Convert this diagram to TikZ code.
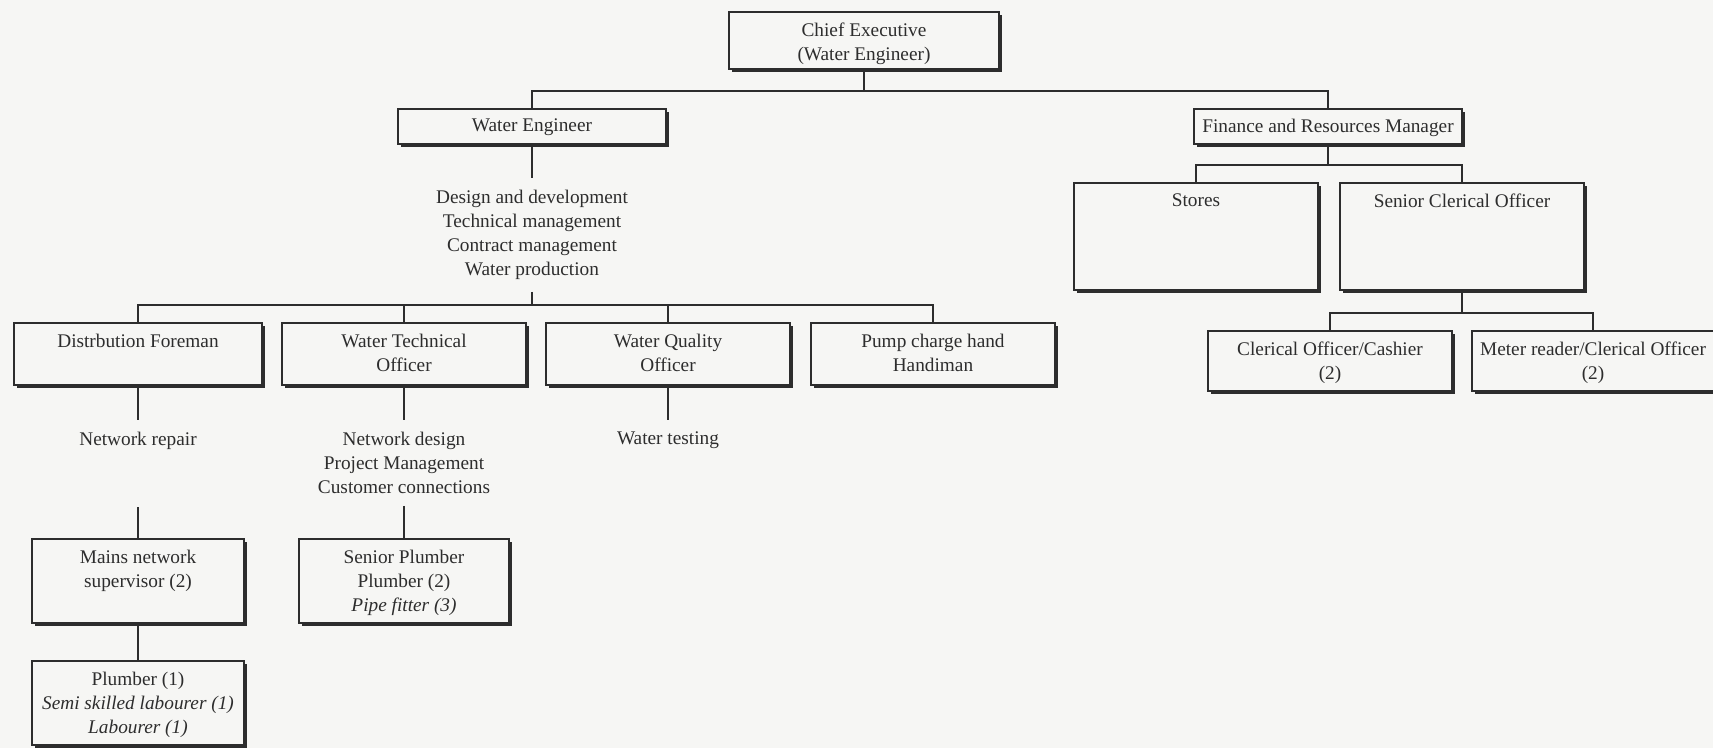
\documentclass[tikz,border=0pt]{standalone}
\usepackage{fontspec}
\setmainfont{Liberation Serif}
\usetikzlibrary{shadows}
\definecolor{ink}{RGB}{45,45,45}
\definecolor{paper}{RGB}{246,246,244}
\begin{document}
\begin{tikzpicture}[x=1pt,y=-1pt,
  box/.style={draw=ink, line width=1.5pt, fill=paper, anchor=north, inner sep=0pt,
     drop shadow={shadow xshift=3pt, shadow yshift=-3pt, opacity=1, fill=ink}},
  lbl/.style={anchor=north, align=center, inner sep=0pt, text=ink, font=\fontsize{19.3}{24}\selectfont},
  fn/.style={lbl, inner ysep=12pt},
  link/.style={draw=ink, line width=1.5pt}]
\fill[paper] (0,0) rectangle (1713,748);
\useasboundingbox (0,0) rectangle (1713,748);

% boxes
\node[box, minimum width=270pt, minimum height=57pt] (ce) at (864,11) {};
\node[box, minimum width=268pt, minimum height=35pt] (we) at (532,108) {};
\node[box, minimum width=268pt, minimum height=35pt] (fin) at (1328,108) {};
\node[box, minimum width=244pt, minimum height=107pt] (stores) at (1196,182) {};
\node[box, minimum width=244pt, minimum height=107pt] (sco) at (1462,182) {};
\node[box, minimum width=244pt, minimum height=60pt] (cash) at (1330,330) {};
\node[box, minimum width=242pt, minimum height=60pt] (meter) at (1593,330) {};
\node[box, minimum width=248pt, minimum height=62pt] (dist) at (138,322) {};
\node[box, minimum width=244pt, minimum height=62pt] (wto) at (404,322) {};
\node[box, minimum width=244pt, minimum height=62pt] (wqo) at (668,322) {};
\node[box, minimum width=244pt, minimum height=62pt] (pump) at (933,322) {};
\node[box, minimum width=212pt, minimum height=84pt] (mains) at (138,538) {};
\node[box, minimum width=212pt, minimum height=84pt] (plumb) at (138,660) {};
\node[box, minimum width=210pt, minimum height=84pt] (splumb) at (404,538) {};

% box texts
\node[lbl] (ce-t) at ([yshift=-12pt]ce.north) {Chief Executive\\(Water Engineer)};
\node[lbl] (we-t) at ([yshift=-11pt]we.north) {Water Engineer};
\node[lbl] (fin-t) at ([yshift=-11pt]fin.north) {Finance and Resources Manager};
\node[lbl] (stores-t) at ([yshift=-12pt]stores.north) {Stores};
\node[lbl] (sco-t) at ([yshift=-12pt]sco.north) {Senior Clerical Officer};
\node[lbl] (cash-t) at ([yshift=-12pt]cash.north) {Clerical Officer/Cashier\\(2)};
\node[lbl] (meter-t) at ([yshift=-12pt]meter.north) {Meter reader/Clerical Officer\\(2)};
\node[lbl] (dist-t) at ([yshift=-12pt]dist.north) {Distrbution Foreman};
\node[lbl] (wto-t) at ([yshift=-12pt]wto.north) {Water Technical\\Officer};
\node[lbl] (wqo-t) at ([yshift=-12pt]wqo.north) {Water Quality\\Officer};
\node[lbl] (pump-t) at ([yshift=-12pt]pump.north) {Pump charge hand\\Handiman};
\node[lbl] (mains-t) at ([yshift=-12pt]mains.north) {Mains network\\supervisor (2)};
\node[lbl] (plumb-t) at ([yshift=-12pt]plumb.north) {Plumber (1)\\\textit{Semi skilled labourer (1)}\\\textit{Labourer (1)}};
\node[lbl] (splumb-t) at ([yshift=-12pt]splumb.north) {Senior Plumber\\Plumber (2)\\\textit{Pipe fitter (3)}};

% function texts
\node[fn] (des) at (532,178) {Design and development\\Technical management\\Contract management\\Water production};
\node[fn] (nr) at (138,420) {Network repair};
\node[fn] (wtf) at (404,420) {Network design\\Project Management\\Customer connections};
\node[fn] (wqf) at (668,420) {Water testing};

% buses
\coordinate (b1) at (864,91);
\coordinate (b2) at (532,305);
\coordinate (b3) at (1328,165);
\coordinate (b4) at (1462,313);
\coordinate (nr-e) at (138,507);

\draw[link] (ce.south) -- (b1);
\draw[link] (we.north) |- (b1) -| (fin.north);
\draw[link] (we.south) -- (des.north);
\draw[link] (des.south) -- (b2);
\draw[link] (dist.north) |- (b2) -| (pump.north);
\draw[link] (wto.north) -- (wto.north |- b2);
\draw[link] (wqo.north) -- (wqo.north |- b2);
\draw[link] (fin.south) -- (b3);
\draw[link] (stores.north) |- (b3) -| (sco.north);
\draw[link] (sco.south) -- (b4);
\draw[link] (cash.north) |- (b4) -| (meter.north);
\draw[link] (dist.south) -- (nr.north);
\draw[link] (nr-e) -- (mains.north);
\draw[link] (mains.south) -- (plumb.north);
\draw[link] (wto.south) -- (wtf.north);
\draw[link] (wtf.south) -- (splumb.north);
\draw[link] (wqo.south) -- (wqf.north);
\end{tikzpicture}
\end{document}
